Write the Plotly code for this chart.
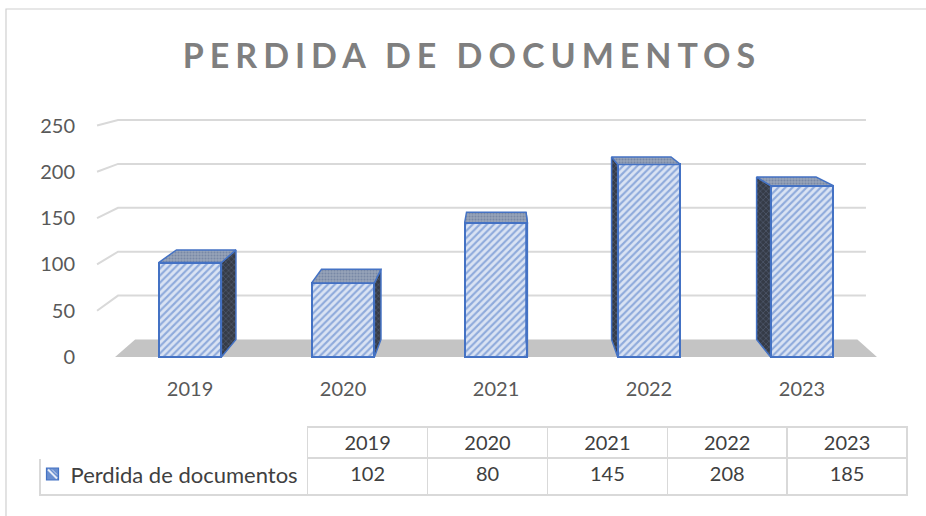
import plotly.graph_objects as go

# ---- data ----
years = ["2019", "2020", "2021", "2022", "2023"]
values = [102, 80, 145, 208, 185]
y_ticks = [0, 50, 100, 150, 200, 250]
series_name = "Perdida de documentos"
title_text = "PERDIDA DE DOCUMENTOS"

# ---- styling / geometry ----
FONT = "Lato, 'Open Sans', sans-serif"
BLUE = "#4472c4"
LIGHT = "#dae3f3"
GRID = "#d9d9d9"
idx = list(range(len(years)))
W = 0.41            # bar width in category units
UV, VV, K = 2.03, 364.0, 0.948   # perspective: vanishing point (data units) and depth factor
ML, MR, MT, MB = 30, 10, 10, 10
PW, PH = 926 - ML - MR, 516 - MT - MB


def back(u, v):
    return UV + K * (u - UV), VV + K * (v - VV)


def path(points):
    return "M " + " L ".join(f"{x},{y}" for x, y in points) + " Z"


def px(x):   # pixel x -> paper
    return (x - ML) / PW


def py(y):   # pixel y -> paper
    return (516 - MB - y) / PH


fig = go.Figure()

# front faces
fig.add_trace(go.Bar(
    x=idx, y=values, width=W, base=0,
    marker=dict(color=LIGHT, line=dict(color=BLUE, width=2),
                pattern=dict(shape="/", fgcolor=BLUE, bgcolor=LIGHT, size=5, solidity=0.42)),
    hoverinfo="skip", showlegend=False,
))

# side and top faces, derived from the values through the perspective projection
for i, v in zip(idx, values):
    l, r = i - W / 2, i + W / 2
    xe = r if i < UV else l
    bx0, by0 = back(xe, 0)
    bx1, by1 = back(xe, v)
    fig.add_trace(go.Scatter(
        x=[xe, xe, bx1, bx0, xe], y=[0, v, by1, by0, 0], mode="lines",
        fill="toself", fillcolor="#3b4250",
        fillpattern=dict(shape="x", fgcolor="#6d7c9c", bgcolor="#353b47", size=4, solidity=0.3),
        line=dict(color=BLUE, width=1.5), hoverinfo="skip", showlegend=False,
    ))
    tlx, tly = back(l, v)
    trx, try_ = back(r, v)
    fig.add_trace(go.Scatter(
        x=[l, r, trx, tlx, l], y=[v, v, try_, tly, v], mode="lines",
        fill="toself", fillcolor="#8a97ad",
        fillpattern=dict(shape=".", fgcolor="#5a6e94", bgcolor="#97a3b8", size=3, solidity=0.4),
        line=dict(color=BLUE, width=1.5), hoverinfo="skip", showlegend=False,
    ))

shapes = []
# floor
FL, FR = -0.49, 4.49
b1 = back(FL, 0)
b2 = back(FR, 0)
shapes.append(dict(type="path", xref="x", yref="y", layer="below",
                   path=path([(FL, 0), (FR, 0), b2, b1]),
                   fillcolor="#c4c4c4", line=dict(width=0)))
# gridlines on the back wall with slanted side-wall segment
GL, GR = -0.608, 4.418
for t in y_ticks[1:]:
    bx, by = back(GL, t)
    shapes.append(dict(type="path", xref="x", yref="y", layer="below",
                       path=f"M {GL},{t} L {bx},{by} L {GR},{by}",
                       line=dict(color=GRID, width=2)))
# chart-area border
shapes.append(dict(type="rect", xref="paper", yref="paper",
                   x0=px(6), x1=1.1, y0=-0.1, y1=py(9),
                   line=dict(color="#d0d0d0", width=1.2), fillcolor="rgba(0,0,0,0)"))
# legend key inside the data table
shapes.append(dict(type="rect", xref="paper", yref="paper",
                   x0=px(46.5), x1=px(58.5), y0=py(480), y1=py(468),
                   line=dict(color=BLUE, width=1.2), fillcolor="#6a8fd0"))
shapes.append(dict(type="line", xref="paper", yref="paper",
                   x0=px(48), x1=px(57), y0=py(469.5), y1=py(478.5),
                   line=dict(color="#e6ecf7", width=2)))
shapes.append(dict(type="line", xref="paper", yref="paper",
                   x0=px(52), x1=px(57), y0=py(469.5), y1=py(474.5),
                   line=dict(color="#c9d6ee", width=1)))

# data table (non-breaking spaces keep the series name on one line)
NB = "\u00a0"
fig.add_trace(go.Table(
    domain=dict(x=[px(40), px(907)], y=[0.0, py(427)]),
    columnwidth=[268, 120, 120, 120, 120, 120],
    header=dict(values=[""] + years, height=31, fill_color="white",
                line=dict(color=["white"] + [GRID] * len(years), width=1.5),
                font=dict(family=FONT, size=20, color="#404040"), align="center"),
    cells=dict(values=[[NB * 4 + series_name.replace(" ", NB)]] + [[v] for v in values],
               height=37, fill_color="white",
               line=dict(color=GRID, width=1.5),
               font=dict(family=FONT, size=[22] + [20] * len(years), color="#404040"),
               align=["left"] + ["center"] * len(years)),
))

fig.update_layout(
    width=926, height=516,
    margin=dict(l=ML, r=MR, t=MT, b=MB),
    paper_bgcolor="white", plot_bgcolor="rgba(0,0,0,0)",
    title=dict(text=f'<span style="letter-spacing:6px">{title_text}</span>',
               xref="container", yref="container", x=0.5097, y=0.8915,
               xanchor="center", yanchor="middle",
               font=dict(family=FONT, size=34, color="#7f7f7f", weight="bold")),
    xaxis=dict(domain=[px(90), px(886)], range=[-0.654, 4.549],
               tickvals=idx, ticktext=years, showgrid=False, zeroline=False, showline=False,
               ticks="", ticklabelstandoff=5,
               tickfont=dict(family=FONT, size=20, color="#595959")),
    yaxis=dict(domain=[py(370), py(98)], range=[-14.04, 279.7],
               tickvals=y_ticks, showgrid=False, zeroline=False, showline=False,
               ticks="", ticklabelstandoff=14,
               tickfont=dict(family=FONT, size=20, color="#595959")),
    shapes=shapes,
    showlegend=False,
    bargap=0,
)

fig.write_html("out.html", config={"displayModeBar": False},
               post_script="document.body.style.margin='0';")
